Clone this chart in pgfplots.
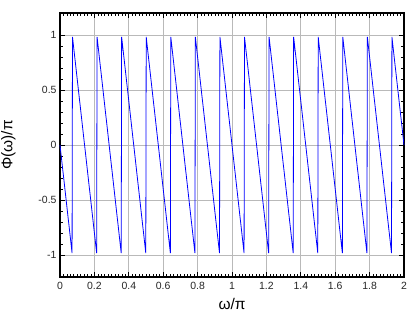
\documentclass[border=0pt]{standalone}
\usepackage{fontspec}
\setmainfont{Liberation Sans}
\usepackage{pgfplots}
\pgfplotsset{compat=1.18}
\begin{document}
\begin{tikzpicture}
\useasboundingbox (-60bp,-43bp) rectangle (360bp,277bp);
\begin{axis}[
  scale only axis,
  width=344bp, height=264bp,
  at={(0,0)}, anchor=south west,
  xmin=0, xmax=2, ymin=-1.2, ymax=1.2,
  xtick={0,0.2,...,2.01},
  xticklabels={0,0.2,0.4,0.6,0.8,1,1.2,1.4,1.6,1.8,2},
  ytick={-1,-0.5,0,0.5,1},
  yticklabels={-1,-0.5,0,0.5,1},
  minor x tick num=9,
  minor y tick num=4,
  tick align=inside,
  major tick length=5bp,
  minor tick length=3bp,
  tick style={black, line width=0.8bp},
  minor tick style={black, line width=0.6bp},
  xmajorgrids, ymajorgrids,
  major grid style={gray!55, line width=0.9bp},
  axis line style={black, line width=1.4bp},
  tick label style={font=\fontsize{10.5}{12}\selectfont, text=black!85},
  /pgf/number format/assume math mode=true,
  xlabel={ω/π},
  ylabel={Φ(ω)/π},
  label style={font=\fontsize{15.5}{18}\selectfont},
  xlabel style={at={(axis description cs:0.5,-0.104)}, anchor=center},
  ylabel style={at={(axis description cs:-0.150,0.5)}, anchor=center, rotate=0},
  xticklabel style={yshift=-2bp},
  clip=false,
]
\addplot[blue, line width=0.8bp] coordinates {
(0,0)
(0.0702,-0.983) (0.0726,0.983)
(0.2131,-0.983) (0.2155,0.983)
(0.3559,-0.983) (0.3583,0.983)
(0.4988,-0.983) (0.5012,0.983)
(0.6417,-0.983) (0.6441,0.983)
(0.7845,-0.983) (0.7869,0.983)
(0.9274,-0.983) (0.9298,0.983)
(1.0702,-0.983) (1.0726,0.983)
(1.2131,-0.983) (1.2155,0.983)
(1.3559,-0.983) (1.3583,0.983)
(1.4988,-0.983) (1.5012,0.983)
(1.6417,-0.983) (1.6441,0.983)
(1.7845,-0.983) (1.7869,0.983)
(1.9274,-0.983) (1.9298,0.983)
(2,0)
};
\end{axis}
\end{tikzpicture}
\end{document}
